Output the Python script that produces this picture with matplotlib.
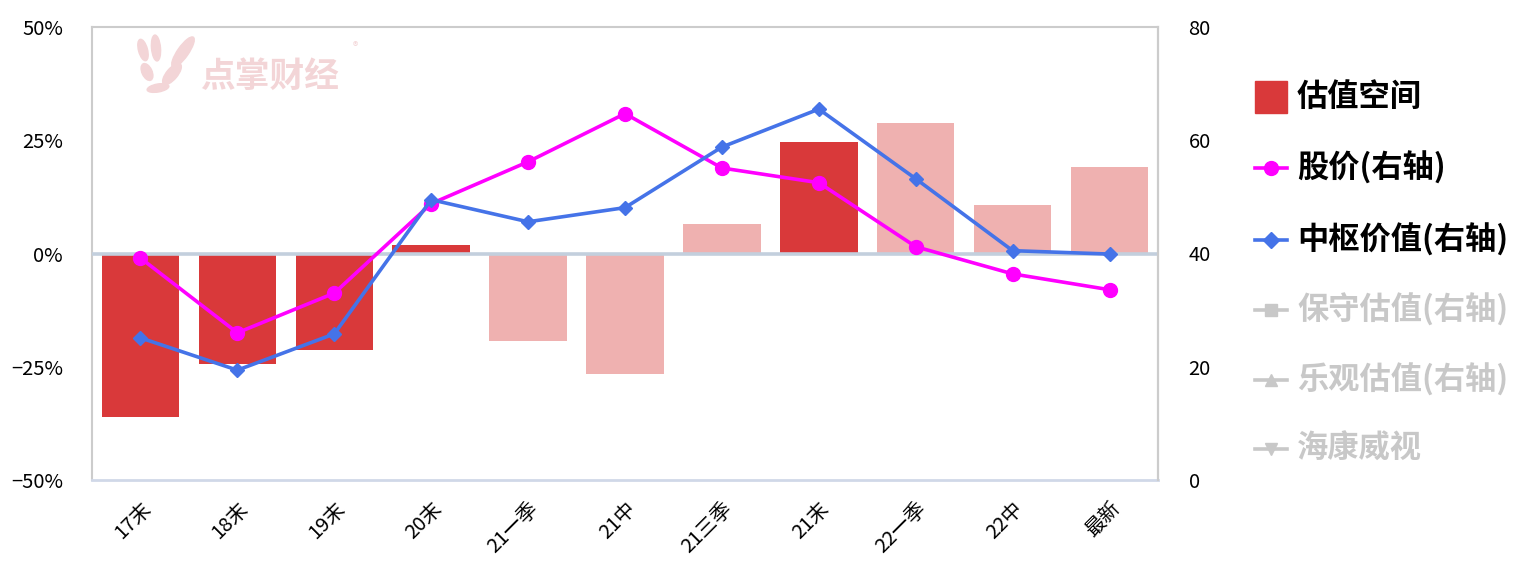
import matplotlib
matplotlib.use("Agg")
import matplotlib.pyplot as plt
from matplotlib.lines import Line2D
from matplotlib.patches import Rectangle, Ellipse
from matplotlib.transforms import IdentityTransform
import numpy as np

plt.rcParams['font.family'] = ['Noto Sans CJK SC', 'DejaVu Sans']

categories = ['17末', '18末', '19末', '20末', '21一季', '21中', '21三季', '21末', '22一季', '22中', '最新']
valuation_space = [-36.0, -24.3, -21.2, 1.8, -19.4, -26.5, 6.6, 24.7, 28.7, 10.6, 19.0]
bar_dark = [True, True, True, True, False, False, False, True, False, False, False]
stock_price = [39.2, 26.0, 33.0, 48.8, 56.2, 64.7, 55.1, 52.5, 41.2, 36.4, 33.6]
center_value = [25.1, 19.4, 25.8, 49.5, 45.6, 48.1, 58.8, 65.5, 53.2, 40.5, 39.9]
left_ticks = [-50, -25, 0, 25, 50]
right_ticks = [0, 20, 40, 60, 80]

DARK = '#D9393A'
LIGHT = '#EFB1B0'
MAGENTA = '#FF00FF'
BLUE = '#4573E8'
GREY = '#C8C8C8'
WM = '#F3D5D7'

W, H = 1527, 585
fig = plt.figure(figsize=(W/100, H/100), dpi=100)
ax = fig.add_axes([92/W, 1-480/H, (1158-92)/W, (480-27)/H])
x = np.arange(len(categories))
colors = [DARK if d else LIGHT for d in bar_dark]
ax.bar(x, valuation_space, width=0.8, color=colors, zorder=2)
ax.axhline(0, color='#C3CFDD', lw=2.6, zorder=3)
ax.set_xlim(-0.5, len(categories)-0.5)
ax.set_ylim(-50, 50)
ax.set_yticks(left_ticks)
ax.set_yticklabels([f'{t}%' if t >= 0 else f'\u2212{abs(t)}%' for t in left_ticks])
ax.set_xticks(x)
ax.set_xticklabels(categories, rotation=45, ha='right', rotation_mode='anchor')
ax.tick_params(axis='both', length=0, labelsize=14.5, colors='black')
ax.tick_params(axis='y', pad=21)
ax.tick_params(axis='x', pad=13)
for s in ['left', 'top', 'right']:
    ax.spines[s].set_color('#CCCCCC')
    ax.spines[s].set_linewidth(1.5)
ax.spines['bottom'].set_color('#D0D8E8')
ax.spines['bottom'].set_linewidth(2)

ax2 = ax.twinx()
ax2.set_ylim(0, 80)
ax2.set_yticks(right_ticks)
ax2.tick_params(axis='y', length=0, labelsize=14.5, pad=22)
ax2.spines['right'].set_color('#CCCCCC')
ax2.spines['right'].set_linewidth(1.5)
for s in ['left', 'top', 'bottom']:
    ax2.spines[s].set_visible(False)
ax2.plot(x, stock_price, color=MAGENTA, lw=2.6, marker='o', markersize=10, zorder=4)
ax2.plot(x, center_value, color=BLUE, lw=2.6, marker='D', markersize=7.5, zorder=5)

# watermark (logo + text), pixel coordinates
for (cx, cy, w, h, ang) in [(143, 50, 9, 22, 15), (156, 48, 9, 26, 5), (183, 52, 11, 36, -35),
                            (172, 74, 11, 26, -40), (147, 72, 10, 18, 25), (158, 88, 22, 8, 10)]:
    fig.add_artist(Ellipse((cx, H-cy), w, h, angle=ang, transform=IdentityTransform(),
                           color=WM, zorder=3))
fig.text(200/W, 1-76/H, '点掌财经', fontsize=25, fontweight='bold', color=WM, va='center', ha='left')
fig.text(353/W, 1-47/H, '®', fontsize=8, color=WM, va='center', ha='left')

# legend
legend_items = [
    ('估值空间', 'bar', DARK, 'black'),
    ('股价(右轴)', 'o', MAGENTA, 'black'),
    ('中枢价值(右轴)', 'D', BLUE, 'black'),
    ('保守估值(右轴)', 's', GREY, GREY),
    ('乐观估值(右轴)', '^', GREY, GREY),
    ('海康威视', 'v', GREY, GREY),
]
ys = [97, 168, 240, 310, 380, 449]
for (label, kind, col, tcol), yp in zip(legend_items, ys):
    yf = 1 - yp/H
    if kind == 'bar':
        fig.add_artist(Rectangle((1255/W, 1-(yp+16)/H), 32/W, 32/H,
                                 transform=fig.transFigure, color=col))
    else:
        fig.add_artist(Line2D([1255/W, 1287/W], [yf, yf], transform=fig.transFigure,
                              color=col, lw=2.6))
        ms = 10 if kind == 'o' else 8
        fig.add_artist(Line2D([1271/W], [yf], transform=fig.transFigure, color=col,
                              marker=kind, markersize=ms, lw=0))
    fig.text(1297/W, yf, label, fontsize=22.5, fontweight='bold', color=tcol, va='center', ha='left')

fig.savefig('out.png', dpi=100)
